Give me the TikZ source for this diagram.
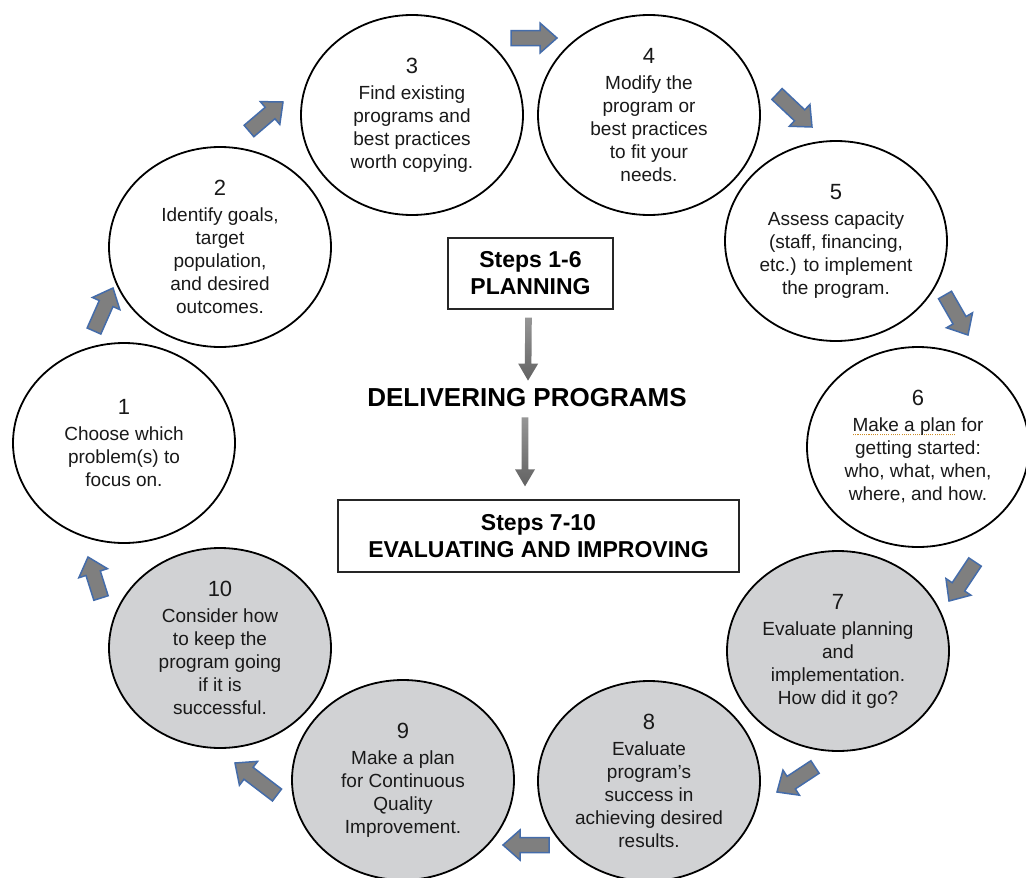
\documentclass[tikz,border=0pt]{standalone}
\usepackage{fontspec}
\setmainfont{Liberation Sans}
\usetikzlibrary{shapes.geometric,calc}
\definecolor{txt}{RGB}{25,25,25}
\definecolor{cfill}{RGB}{209,210,212}
\definecolor{afill}{RGB}{127,127,127}
\definecolor{aedge}{RGB}{68,108,170}
\definecolor{sqcol}{RGB}{204,140,40}
\definecolor{gtop}{RGB}{150,150,150}
\definecolor{gbot}{RGB}{98,98,98}
\newsavebox\sqbox
\newcommand{\squig}[1]{\sbox\sqbox{#1}\rlap{\raisebox{-3.5pt}{\textcolor{sqcol}{\hbox to \wd\sqbox{\xleaders\hbox to 2.2pt{\hss\rule{1.1pt}{1.1pt}\hss}\hfill}}}}\usebox\sqbox}
\newcommand{\stepnum}[1]{{\fontsize{22}{26}\selectfont #1}\\[3pt]}
\newcommand{\blockarrow}[3]{%
  \coordinate (#1s) at ($(#3)!17pt!(#2)$);
  \draw[barrow] ($(#2)!7.5pt!90:(#3)$) -- ($(#1s)!7.5pt!90:(#3)$) -- ($(#1s)!15pt!90:(#3)$) -- (#3) -- ($(#1s)!15pt!-90:(#3)$) -- ($(#1s)!7.5pt!-90:(#3)$) -- ($(#2)!7.5pt!-90:(#3)$) -- cycle;
}
\newcommand{\gradarrow}[3]{%
  \coordinate (#1s) at ($(#3)!17pt!(#2)$);
  \shade[garrow] ($(#2)!3.3pt!90:(#3)$) -- ($(#1s)!3.3pt!90:(#3)$) -- ($(#1s)!10pt!90:(#3)$) -- (#3) -- ($(#1s)!10pt!-90:(#3)$) -- ($(#1s)!3.3pt!-90:(#3)$) -- ($(#2)!3.3pt!-90:(#3)$) -- cycle;
}
\tikzset{
  stepcirc/.style={ellipse, draw=black, line width=1.8pt, minimum width=222pt, minimum height=200pt, inner sep=0pt},
  plaincirc/.style={stepcirc, fill=white},
  donecirc/.style={stepcirc, fill=cfill},
  steptext/.style={align=center, inner sep=0pt, text=txt, font=\fontsize{19}{23}\selectfont},
  boxnode/.style={draw=black!85, line width=1.3pt, fill=white, align=center, inner sep=0pt, text=black, font=\fontsize{23}{27}\selectfont\bfseries},
  barrow/.style={fill=afill, draw=aedge, line width=1.5pt, line join=miter},
  garrow/.style={top color=gtop, bottom color=gbot, draw=none},
}
\begin{document}
\begin{tikzpicture}[x=1pt, y=-1pt]
\useasboundingbox (0,0) rectangle (1026,878);
\fill[white] (0,0) rectangle (1026,878);

% circles
\node[plaincirc] (c1) at (124,443) {};
\node[plaincirc] (c2) at (220,247) {};
\node[plaincirc] (c3) at (412,115) {};
\node[plaincirc] (c4) at (649,115) {};
\node[plaincirc] (c5) at (836,241) {};
\node[plaincirc] (c6) at (918,447) {};
\node[donecirc] (c7) at (838,651) {};
\node[donecirc] (c8) at (649,781) {};
\node[donecirc] (c9) at (403,780) {};
\node[donecirc] (c10) at (220,648) {};

% texts
\node[steptext] (t1) at (c1) {\stepnum{1}Choose which\\problem(s) to\\focus on.};
\node[steptext] (t2) at (c2) {\stepnum{2}Identify goals,\\target\\population,\\and desired\\outcomes.};
\node[steptext] (t3) at (c3) {\stepnum{3}Find existing\\programs and\\best practices\\worth copying.};
\node[steptext] (t4) at (c4) {\stepnum{4}Modify the\\program or\\best practices\\to fit your\\needs.};
\node[steptext] (t5) at (c5) {\stepnum{5}Assess capacity\\(staff, financing,\\etc.) to implement\\the program.};
\node[steptext] (t6) at (c6) {\stepnum{6}\squig{Make a plan} for\\getting started:\\who, what, when,\\where, and how.};
\node[steptext] (t7) at (c7) {\stepnum{7}Evaluate planning\\and\\implementation.\\How did it go?};
\node[steptext] (t8) at (c8) {\stepnum{8}Evaluate\\program’s\\success in\\achieving desired\\results.};
\node[steptext] (t9) at (c9) {\stepnum{9}Make a plan\\for Continuous\\Quality\\Improvement.};
\node[steptext] (t10) at (c10) {\stepnum{10}Consider how\\to keep the\\program going\\if it is\\successful.};

% centre boxes
\node[boxnode, minimum width=165pt, minimum height=71pt] (b1) at (530.5,273.5) {Steps 1-6\\PLANNING};
\node[boxnode, minimum width=401pt, minimum height=72pt] (b2) at (538.5,536) {Steps 7-10\\EVALUATING AND IMPROVING};
\node[inner sep=0pt, text=black, font=\fontsize{26}{30}\selectfont\bfseries] (dp) at (527,398) {DELIVERING PROGRAMS};

% gradient arrows
\coordinate (g1t) at ($(b1.south)+(-2,8)$);
\coordinate (g1h) at ($(dp.north)+(1,-8)$);
\coordinate (g2t) at ($(dp.south)+(-2,10)$);
\coordinate (g2h) at ($(b2.north)+(-13.5,-13)$);
\gradarrow{ga1}{g1t}{g1h}
\gradarrow{ga2}{g2t}{g2h}

% block arrows
\coordinate (a12t) at (94,331);  \coordinate (a12h) at (113,288);
\coordinate (a23t) at (249,131); \coordinate (a23h) at (283,102);
\coordinate (a34t) at (511,38);  \coordinate (a34h) at (557,38);
\coordinate (a45t) at (777,94);  \coordinate (a45h) at (812,127);
\coordinate (a56t) at (945,295); \coordinate (a56h) at (968,335);
\coordinate (a67t) at (975,562); \coordinate (a67h) at (949,601);
\coordinate (a78t) at (815,767); \coordinate (a78h) at (777,792);
\coordinate (a89t) at (549,845); \coordinate (a89h) at (503,845);
\coordinate (a910t) at (277,795); \coordinate (a910h) at (235,763);
\coordinate (a101t) at (101,598); \coordinate (a101h) at (88,557);
\blockarrow{a12}{a12t}{a12h}
\blockarrow{a23}{a23t}{a23h}
\blockarrow{a34}{a34t}{a34h}
\blockarrow{a45}{a45t}{a45h}
\blockarrow{a56}{a56t}{a56h}
\blockarrow{a67}{a67t}{a67h}
\blockarrow{a78}{a78t}{a78h}
\blockarrow{a89}{a89t}{a89h}
\blockarrow{a910}{a910t}{a910h}
\blockarrow{a101}{a101t}{a101h}
\end{tikzpicture}
\end{document}
